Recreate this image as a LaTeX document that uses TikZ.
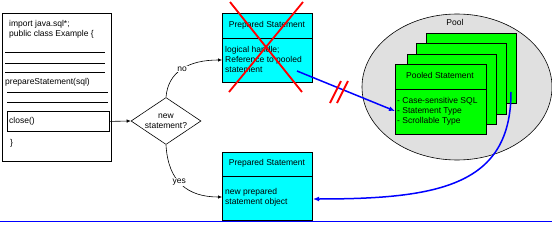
\documentclass[tikz,border=0pt]{standalone}
\usepackage{fontspec}
\setmainfont{Liberation Sans}
\usetikzlibrary{shapes.geometric,arrows.meta}
\definecolor{pscyan}{RGB}{0,255,255}
\definecolor{psgreen}{RGB}{0,255,0}
\definecolor{poolgray}{RGB}{224,224,224}
\definecolor{bblue}{RGB}{0,0,255}
\definecolor{xred}{RGB}{255,0,0}
\begin{document}
\begin{tikzpicture}[x=1pt,y=-1pt,
  font=\fontsize{8.5}{10}\selectfont,
  box/.style={draw,line width=0.8pt,inner sep=0,anchor=north west},
  txt/.style={inner sep=0,anchor=west,align=left},
  ctxt/.style={inner sep=0,anchor=center,align=center},
  rule/.style={line width=0.8pt},
  arr/.style={line width=0.6pt,-{Latex[length=4pt,width=3.5pt]}},
  bluearr/.style={draw=bblue,line width=1.5pt,-{Latex[length=6pt,width=5pt]}},
  redmark/.style={draw=xred,line width=1.8pt}]
\useasboundingbox (0,0) rectangle (552,225);

% class box
\node[box,minimum width=109pt,minimum height=148pt] (cls) at (2,13) {};
\node[txt] (t1) at (9,24) {import java.sql*;};
\node[txt] (t2) at (9,34) {public class Example \{};
\draw[rule] (5,52) -- (105,52);
\draw[rule] (5,63) -- (105,63);
\draw[rule] (5,72) -- (105,72);
\node[txt] (t3) at (5,82) {prepareStatement(sql)};
\draw[rule] (7,92) -- (108,92);
\draw[rule] (7,102) -- (108,102);
\node[box,minimum width=102pt,minimum height=20pt] (close) at (7,111) {};
\node[txt] (t4) at (9,121) {close()};
\node[txt] (t5) at (10,143) {\}};

% decision
\node[draw,diamond,line width=0.6pt,minimum width=70pt,minimum height=47pt,inner sep=0] (dec) at (166,121) {};
\node[ctxt] (dect) at (166,121) {new\\statement?};

% prepared statement (top)
\node[box,fill=pscyan,minimum width=90pt,minimum height=69pt] (ps1) at (222,13) {};
\draw[rule] (222,38) -- (312,38);
\node[ctxt] (ps1t) at (267,25) {Prepared Statement};
\node[txt] (ps1b) at (225,59) {logical handle;\\Reference to pooled\\statement};
\draw[redmark] (230,2) -- (302,92);
\draw[redmark] (303,2) -- (229,92);
\coordinate (ps1in) at (222,60);
\coordinate (ps1out) at (297,71);

% prepared statement (bottom)
\node[box,fill=pscyan,minimum width=90pt,minimum height=68pt] (ps2) at (222,152) {};
\draw[rule] (222,176) -- (312,176);
\node[ctxt] (ps2t) at (267,163) {Prepared Statement};
\node[txt] (ps2b) at (225,197) {new prepared\\statement object};
\coordinate (ps2in) at (222,197);
\coordinate (ps2east) at (313,199);

% pool
\node[draw,ellipse,fill=poolgray,line width=0.6pt,minimum width=190pt,minimum height=146pt,inner sep=0] (pool) at (457,87) {};
\node[ctxt] (poolt) at (455,22) {Pool};
\node[box,fill=psgreen,minimum width=90pt,minimum height=70pt] (g4) at (426,33) {};
\node[box,fill=psgreen,minimum width=90pt,minimum height=71pt] (g3) at (416,43) {};
\node[box,fill=psgreen,minimum width=89pt,minimum height=70pt] (g2) at (407,54) {};
\node[box,fill=psgreen,minimum width=91pt,minimum height=70pt] (g1) at (395,64) {};
\draw[rule] (395,89) -- (486,89);
\node[ctxt] (g1t) at (440,75) {Pooled Statement};
\node[txt] (g1b) at (397,111) {- Case-sensitive SQL\\- Statement Type\\- Scrollable Type};
\coordinate (g1in) at (395,111);
\coordinate (g4out) at (511,92);

% connectors
\draw[arr] (close.east) -- (dec.west);
\draw[arr] (dec.north) .. controls (168,72) and (188,60) .. (ps1in)
  node[pos=0.5,fill=white,inner sep=1pt] (no) {no};
\draw[arr] (dec.south) .. controls (168,182) and (188,197) .. (ps2in)
  node[pos=0.45,fill=white,inner sep=1pt] (yes) {yes};
\draw[bluearr] (ps1out) -- (g1in);
\draw[redmark] (330,103) -- (341,81);
\draw[redmark] (337,103) -- (348,81);
\draw[bluearr] (g4out) .. controls (511,185) and (440,199) .. (ps2east);

% bottom rule
\draw[draw=bblue,line width=1pt] (0,221) -- (552,221);
\end{tikzpicture}
\end{document}
